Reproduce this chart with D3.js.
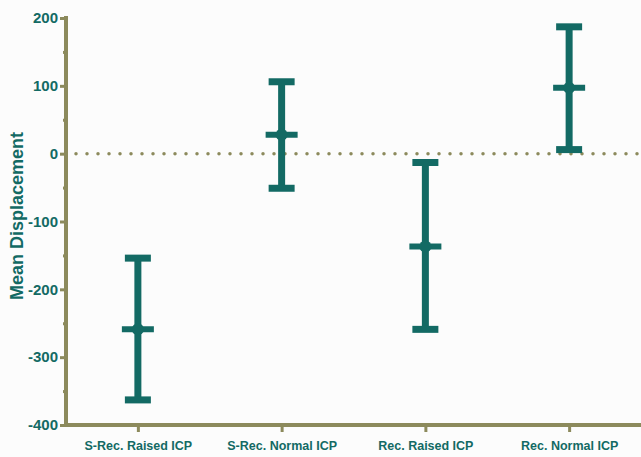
<!DOCTYPE html>
<html>
<head>
<meta charset="utf-8">
<script src="https://cdn.jsdelivr.net/npm/d3@7"></script>
<style>
  html, body { margin: 0; padding: 0; background: #fcfcfc; }
  svg { display: block; font-family: "Liberation Sans", Arial, sans-serif; }
</style>
</head>
<body>
<svg id="chart" width="641" height="457"></svg>
<script>
// Groups and their mean displacement with interval bounds
const groups = ["S-Rec. Raised ICP", "S-Rec. Normal ICP", "Rec. Raised ICP", "Rec. Normal ICP"];
const means  = [-259, 28, -137, 97];
const lowers = [-363, -51, -259, 6];
const uppers = [-154, 106, -13, 187];
const yTicks = [-400, -300, -200, -100, 0, 100, 200];
const yMinorTicks = [-350, -250, -150, -50, 50, 150];

const teal = "#136a64";
const olive = "#8c8a5c";

const svg = d3.select("#chart");
const plotLeft = 66, plotRight = 641, plotTop = 18, plotBottom = 425;

const x = d3.scalePoint().domain(groups).range([plotLeft, plotRight]).padding(0.5);
const y = d3.scaleLinear().domain([-400, 200]).range([plotBottom, plotTop]);

// zero reference line (dotted)
svg.append("line")
  .attr("x1", plotLeft + 10).attr("x2", plotRight)
  .attr("y1", y(0)).attr("y2", y(0))
  .attr("stroke", olive).attr("stroke-width", 3.5)
  .attr("stroke-linecap", "round")
  .attr("stroke-dasharray", "0 11");

// y axis
const yAxis = svg.append("g").attr("transform", `translate(${plotLeft},0)`)
  .call(d3.axisLeft(y).tickValues(yTicks).tickFormat(d => String(d)).tickSize(6).tickPadding(2));
yAxis.select(".domain").remove();
yAxis.selectAll(".tick line").attr("stroke", olive).attr("stroke-width", 3);
yAxis.selectAll(".tick text")
  .attr("fill", teal).attr("font-size", 15).attr("font-weight", "bold");
svg.append("g").attr("transform", `translate(${plotLeft},0)`)
  .call(d3.axisLeft(y).tickValues(yMinorTicks).tickSize(3).tickFormat(""))
  .call(g => g.select(".domain").remove())
  .selectAll(".tick line").attr("stroke", olive).attr("stroke-width", 3);
svg.append("line")
  .attr("x1", plotLeft).attr("x2", plotLeft)
  .attr("y1", plotTop - 2).attr("y2", plotBottom + 2)
  .attr("stroke", olive).attr("stroke-width", 4);

// x axis
const xAxis = svg.append("g").attr("transform", `translate(0,${plotBottom})`)
  .call(d3.axisBottom(x).tickSize(7).tickPadding(9));
xAxis.select(".domain").remove();
xAxis.selectAll(".tick line").attr("stroke", olive).attr("stroke-width", 3);
xAxis.selectAll(".tick text")
  .attr("fill", teal).attr("font-size", 12.5).attr("font-weight", "bold");
svg.append("line")
  .attr("x1", plotLeft - 2).attr("x2", plotRight)
  .attr("y1", plotBottom).attr("y2", plotBottom)
  .attr("stroke", olive).attr("stroke-width", 4);

// y axis title
svg.append("text")
  .attr("transform", `translate(23,216) rotate(-90)`)
  .attr("text-anchor", "middle")
  .attr("fill", teal).attr("font-size", 18).attr("font-weight", "bold")
  .text("Mean Displacement");

// error bars
const data = groups.map((g, i) => ({ g, m: means[i], lo: lowers[i], hi: uppers[i] }));
const bars = svg.append("g").selectAll("g").data(data).join("g")
  .attr("transform", d => `translate(${x(d.g)},0)`);
bars.append("line")
  .attr("y1", d => y(d.lo)).attr("y2", d => y(d.hi))
  .attr("stroke", teal).attr("stroke-width", 7);
bars.append("line")
  .attr("x1", -13).attr("x2", 13)
  .attr("y1", d => y(d.hi)).attr("y2", d => y(d.hi))
  .attr("stroke", teal).attr("stroke-width", 7);
bars.append("line")
  .attr("x1", -13).attr("x2", 13)
  .attr("y1", d => y(d.lo)).attr("y2", d => y(d.lo))
  .attr("stroke", teal).attr("stroke-width", 7);
bars.append("line")
  .attr("x1", -16).attr("x2", 16)
  .attr("y1", d => y(d.m)).attr("y2", d => y(d.m))
  .attr("stroke", teal).attr("stroke-width", 6);
bars.append("circle")
  .attr("cy", d => y(d.m)).attr("r", 6)
  .attr("fill", teal);
</script>
</body>
</html>
